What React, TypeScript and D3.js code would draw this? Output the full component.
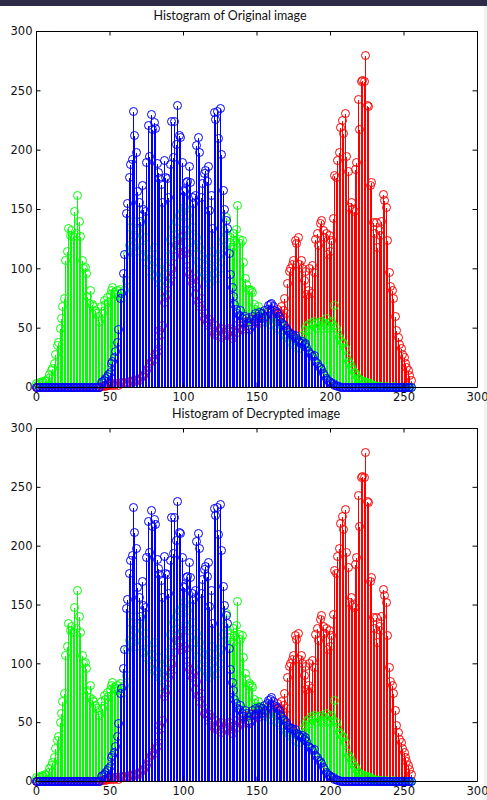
import React, { useEffect, useRef } from 'react';
import * as d3 from 'd3';

// gray levels of the 8-bit image (0..255)
const levels = d3.range(256);

// pixel counts per gray level (16 per row)
const redCounts = [
  0, 0, 0, 0, 0, 0, 0, 0, 0, 0, 0, 0, 0, 0, 0, 0,
  0, 0, 0, 0, 0, 0, 0, 0, 0, 0, 0, 0, 0, 0, 0, 0,
  0, 0, 0, 0, 0, 0, 0, 0, 0, 0, 0, 0, 1, 1, 2, 1,
  2, 2, 3, 2, 3, 2, 3, 3, 2, 3, 4, 3, 4, 3, 4, 5,
  4, 5, 6, 5, 6, 7, 6, 8, 9, 10, 12, 14, 17, 20, 22, 25,
  24, 28, 30, 38, 48, 45, 52, 72, 76, 78, 88, 92, 100, 95, 110, 120,
  124, 118, 126, 112, 128, 115, 108, 98, 95, 90, 88, 92, 78, 85, 72, 68,
  75, 60, 58, 62, 55, 52, 57, 48, 50, 45, 52, 44, 47, 50, 42, 46,
  44, 49, 45, 50, 47, 41, 44, 48, 52, 46, 50, 55, 49, 53, 51, 56,
  50, 54, 58, 52, 57, 55, 60, 54, 58, 62, 56, 60, 58, 63, 57, 61,
  64, 59, 63, 58, 66, 62, 60, 68, 65, 75, 62, 88, 98, 100, 104, 107,
  124, 121, 126, 104, 107, 100, 90, 98, 78, 82, 100, 79, 103, 97, 125, 130,
  120, 138, 141, 132, 126, 130, 112, 128, 115, 124, 142, 179, 177, 191, 198, 219,
  225, 214, 231, 195, 182, 152, 156, 150, 148, 184, 190, 243, 217, 258, 259, 258,
  280, 238, 237, 170, 173, 139, 130, 139, 118, 132, 128, 140, 163, 158, 152, 124,
  97, 85, 82, 75, 60, 48, 42, 36, 33, 28, 25, 20, 17, 14, 10, 6,
];

const greenCounts = [
  3, 2, 4, 3, 5, 4, 6, 5, 8, 11, 14, 16, 20, 28, 35, 38,
  50, 58, 68, 75, 107, 115, 134, 128, 132, 127, 148, 130, 162, 140, 127, 107,
  100, 101, 96, 77, 71, 82, 70, 68, 65, 62, 60, 56, 68, 62, 73, 70,
  76, 72, 78, 82, 84, 80, 78, 82, 77, 83, 80, 76, 82, 90, 112, 120,
  135, 118, 140, 128, 115, 132, 124, 138, 118, 110, 126, 105, 112, 98, 108, 95,
  118, 100, 92, 105, 88, 98, 80, 95, 90, 102, 110, 125, 118, 135, 128, 140,
  122, 145, 130, 148, 138, 152, 132, 145, 128, 122, 135, 118, 112, 126, 105, 118,
  98, 110, 95, 108, 92, 104, 88, 100, 115, 96, 108, 92, 110, 100, 118, 125,
  132, 143, 128, 122, 126, 118, 130, 124, 133, 153, 125, 121, 124, 105, 92, 87,
  82, 83, 82, 80, 70, 66, 63, 68, 64, 60, 58, 62, 55, 60, 57, 53,
  58, 55, 52, 56, 50, 54, 48, 52, 45, 48, 42, 45, 40, 38, 42, 36,
  40, 34, 38, 33, 40, 44, 42, 48, 51, 53, 49, 55, 52, 56, 54, 50,
  55, 52, 56, 50, 54, 58, 52, 55, 50, 56, 52, 69, 50, 46, 42, 40,
  38, 37, 33, 25, 22, 20, 18, 15, 13, 12, 10, 8, 7, 6, 5, 5,
  4, 4, 3, 3, 2, 2, 2, 1, 1, 1, 0, 1, 0, 0, 1, 0,
  0, 0, 0, 1, 0, 0, 0, 0, 0, 0, 0, 0, 0, 0, 0, 0,
];

const blueCounts = [
  0, 0, 0, 0, 0, 0, 0, 0, 0, 0, 0, 0, 0, 0, 0, 0,
  0, 0, 0, 0, 0, 0, 0, 0, 0, 0, 0, 0, 0, 0, 0, 0,
  0, 0, 0, 0, 0, 0, 0, 0, 0, 0, 0, 0, 4, 5, 6, 8,
  9, 11, 13, 20, 22, 25, 30, 38, 49, 75, 79, 96, 112, 147, 155, 177,
  188, 192, 233, 212, 198, 165, 156, 140, 170, 150, 148, 190, 221, 195, 230, 217,
  223, 218, 189, 181, 176, 171, 156, 191, 177, 176, 160, 188, 224, 194, 224, 205,
  238, 212, 211, 190, 166, 165, 173, 174, 186, 173, 160, 155, 162, 204, 211, 198,
  160, 172, 180, 183, 174, 186, 149, 162, 134, 232, 226, 233, 210, 235, 196, 166,
  150, 141, 134, 113, 95, 84, 77, 70, 66, 62, 61, 65, 58, 55, 60, 58,
  52, 49, 57, 60, 56, 62, 58, 60, 63, 58, 62, 65, 60, 66, 69, 70,
  71, 68, 65, 64, 62, 60, 57, 55, 53, 52, 50, 48, 46, 45, 45, 43,
  44, 41, 40, 38, 37, 39, 36, 37, 34, 30, 29, 28, 26, 27, 22, 20,
  18, 17, 15, 12, 10, 8, 6, 5, 4, 3, 3, 2, 2, 1, 1, 0,
  0, 0, 0, 0, 0, 0, 0, 0, 0, 0, 0, 0, 0, 0, 0, 0,
  0, 0, 0, 0, 0, 0, 0, 0, 0, 0, 0, 0, 0, 0, 0, 0,
  0, 0, 0, 0, 0, 0, 0, 0, 0, 0, 0, 0, 0, 0, 0, 0,
];

const xTicks = [0, 50, 100, 150, 200, 250, 300];
const yTicks = [0, 50, 100, 150, 200, 250, 300];
const panelTitles = ['Histogram of Original image', 'Histogram of Decrypted image'];

const WIDTH = 487;
const HEIGHT = 800;

// drawn in this order, like stem(r); hold on; stem(g); stem(b)
const series = [
  { color: '#ff0000', values: redCounts },
  { color: '#00ff00', values: greenCounts },
  { color: '#0000ff', values: blueCounts },
];

const panels = [
  { title: panelTitles[0], top: 31, bottom: 387, titleX: 230, titleY: 20 },
  { title: panelTitles[1], top: 428, bottom: 781, titleX: 256, titleY: 418 },
];

const LEFT = 36;
const RIGHT = 477;
const TICK = 4.5;

const drawPanel = (svg, p) => {
  const x = d3.scaleLinear().domain([0, 300]).range([LEFT, RIGHT]);
  const y = d3.scaleLinear().domain([0, 300]).range([p.bottom, p.top]);
  const g = svg.append('g');

  // stems and circle markers, one series at a time
  series.forEach((s) => {
    const sg = g.append('g').attr('stroke', s.color).attr('fill', 'none');
    sg.append('g')
      .attr('shape-rendering', 'crispEdges')
      .selectAll('line')
      .data(s.values)
      .join('line')
      .attr('x1', (d, i) => Math.round(x(levels[i])) + 0.5)
      .attr('x2', (d, i) => Math.round(x(levels[i])) + 0.5)
      .attr('y1', y(0) + 0.5)
      .attr('y2', (d) => Math.round(y(d)) + 0.5)
      .attr('stroke-width', 1);
    sg.append('g')
      .selectAll('circle')
      .data(s.values)
      .join('circle')
      .attr('cx', (d, i) => Math.round(x(levels[i])) + 0.5)
      .attr('cy', (d) => Math.round(y(d)) + 0.5)
      .attr('r', 4)
      .attr('stroke-width', 1);
  });

  // box with inward ticks on all four sides
  const styleAxis = (sel) => {
    sel.attr('font-family', "'DejaVu Sans', sans-serif")
      .attr('font-size', 11.5)
      .selectAll('path, line')
      .attr('stroke', '#000');
    sel.selectAll('text').attr('fill', '#111');
  };

  g.append('g')
    .attr('transform', `translate(0,${p.bottom})`)
    .call(d3.axisBottom(x).tickValues(xTicks).tickSize(-TICK).tickSizeOuter(0).tickPadding(6))
    .call(styleAxis);
  g.append('g')
    .attr('transform', `translate(${LEFT},0)`)
    .call(d3.axisLeft(y).tickValues(yTicks).tickSize(-TICK).tickSizeOuter(0).tickPadding(3.5))
    .call(styleAxis);
  g.append('g')
    .attr('transform', `translate(0,${p.top})`)
    .call(d3.axisTop(x).tickValues(xTicks).tickSize(-TICK).tickSizeOuter(0).tickFormat(() => ''))
    .call(styleAxis);
  g.append('g')
    .attr('transform', `translate(${RIGHT},0)`)
    .call(d3.axisRight(y).tickValues(yTicks).tickSize(-TICK).tickSizeOuter(0).tickFormat(() => ''))
    .call(styleAxis);

  g.append('text')
    .attr('x', p.titleX)
    .attr('y', p.titleY)
    .attr('text-anchor', 'middle')
    .attr('font-family', 'Lato, sans-serif')
    .attr('font-size', 12.5)
    .attr('fill', '#111')
    .text(p.title);
};

const HistogramFigure = () => {
  const ref = useRef<SVGSVGElement>(null);

  useEffect(() => {
    const svg = d3.select(ref.current);
    svg.selectAll('*').remove();
    svg.append('rect').attr('width', WIDTH).attr('height', HEIGHT).attr('fill', '#fff');
    // dark strip of the viewer window at the top
    svg.append('rect').attr('width', WIDTH).attr('height', 6).attr('fill', '#2d2b47');
    svg.append('rect').attr('x', 484).attr('y', 6).attr('width', 3).attr('height', HEIGHT).attr('fill', '#f2f2f2');
    panels.forEach((p) => drawPanel(svg, p));
  }, []);

  return (
    <svg
      ref={ref}
      width={WIDTH}
      height={HEIGHT}
      style={{ position: 'absolute', left: 0, top: 0, display: 'block' }}
    />
  );
};

export default function App() {
  return <HistogramFigure />;
}
